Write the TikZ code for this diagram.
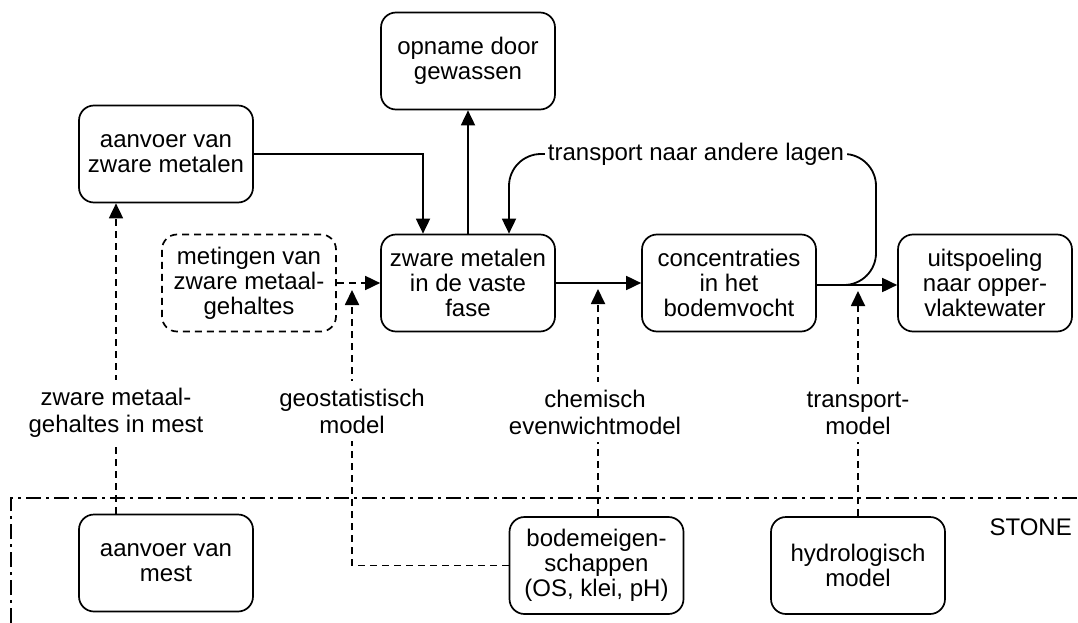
\documentclass[tikz,border=0pt]{standalone}
\usepackage{fontspec}
\setmainfont{Liberation Sans}
\usetikzlibrary{arrows.meta}
\begin{document}
\begin{tikzpicture}[x=1pt,y=-1pt,
  box/.style={draw, line width=1.7pt, rounded corners=15pt, minimum width=174pt, minimum height=97pt,
    inner sep=0pt, align=center, font=\fontsize{24}{25}\selectfont},
  dbox/.style={box, dash pattern=on 7pt off 5pt},
  lbl/.style={fill=white, inner xsep=2pt, inner ysep=8pt, align=center, font=\fontsize{24}{27}\selectfont},
  conn/.style={line width=1.8pt, -{Triangle[length=15pt,width=14pt]}},
  dconn/.style={conn, dash pattern=on 7pt off 5pt},
  dashdotline/.style={line width=1.5pt, dash pattern=on 15pt off 5pt on 3pt off 5pt}]
\useasboundingbox (0,0) rectangle (1078,623);

% STONE frame
\coordinate (fa) at (11,623);
\coordinate (fb) at (11,498);
\coordinate (fc) at (1078,498);
\draw[dashdotline] (fa) -- (fb) -- (fc);
\node[anchor=east, font=\fontsize{24}{25}\selectfont, inner sep=0pt] (stone) at (1072,527) {STONE};

% boxes
\node[box] (azm) at (166,154) {aanvoer van\\zware metalen};
\node[box] (opn) at (468,61) {opname door\\gewassen};
\node[dbox] (met) at (249,283) {metingen van\\zware metaal-\\gehaltes};
\node[box] (vas) at (468,283) {zware metalen\\in de vaste\\fase};
\node[box] (con) at (729,283) {concentraties\\in het\\bodemvocht};
\node[box] (uit) at (985,283) {uitspoeling\\naar opper-\\vlaktewater};
\node[box] (mst) at (166,563) {aanvoer van\\mest};
\node[box] (bod) at (596.5,565.5) {bodemeigen-\\schappen\\(OS, klei, pH)};
\node[box] (hyd) at (858,565.5) {hydrologisch\\model};

% solid connectors
\draw[conn] (azm.east) -| ([xshift=-45pt]vas.north);
\draw[conn] (vas.north) -- (opn.south);
\draw[conn] (vas.east) -- (con.west);
\draw[conn] ([yshift=-2pt]con.east) -- ([yshift=-2pt]uit.west);

% transport naar andere lagen
\coordinate (t1) at (876,285);
\coordinate (t2) at (876,154);
\coordinate (t3) at (509,154);
\draw[conn, rounded corners=32pt] ([yshift=-2pt]con.east) -- (t1) -- (t2) -- (t3) -- ([xshift=41pt]vas.north);
\node[fill=white, inner xsep=3pt, inner ysep=2pt, font=\fontsize{24}{25}\selectfont] (tlab) at (696,154) {transport naar andere lagen};

% dashed connectors
\draw[dconn] (met.east) -- (vas.west);
\draw[dconn] ([xshift=-50pt]mst.north) -- ([xshift=-50pt]azm.south);
\coordinate (geoTip) at (352,290);
\draw[dconn] (bod.west) -| (geoTip);
\coordinate (chemTip) at (598,289);
\draw[dconn] ([xshift=1.5pt]bod.north) -- (chemTip);
\coordinate (trTip) at (858,291);
\draw[dconn] (hyd.north) -- (trTip);

% labels on dashed connectors
\node[lbl] (lmst) at (116,413) {zware metaal-\\gehaltes in mest};
\node[lbl] (lgeo) at (352,411) {geostatistisch\\model};
\node[lbl] (lchem) at (595,412) {chemisch\\evenwichtmodel};
\node[lbl] (ltr) at (858,413) {transport-\\model};
\end{tikzpicture}
\end{document}
